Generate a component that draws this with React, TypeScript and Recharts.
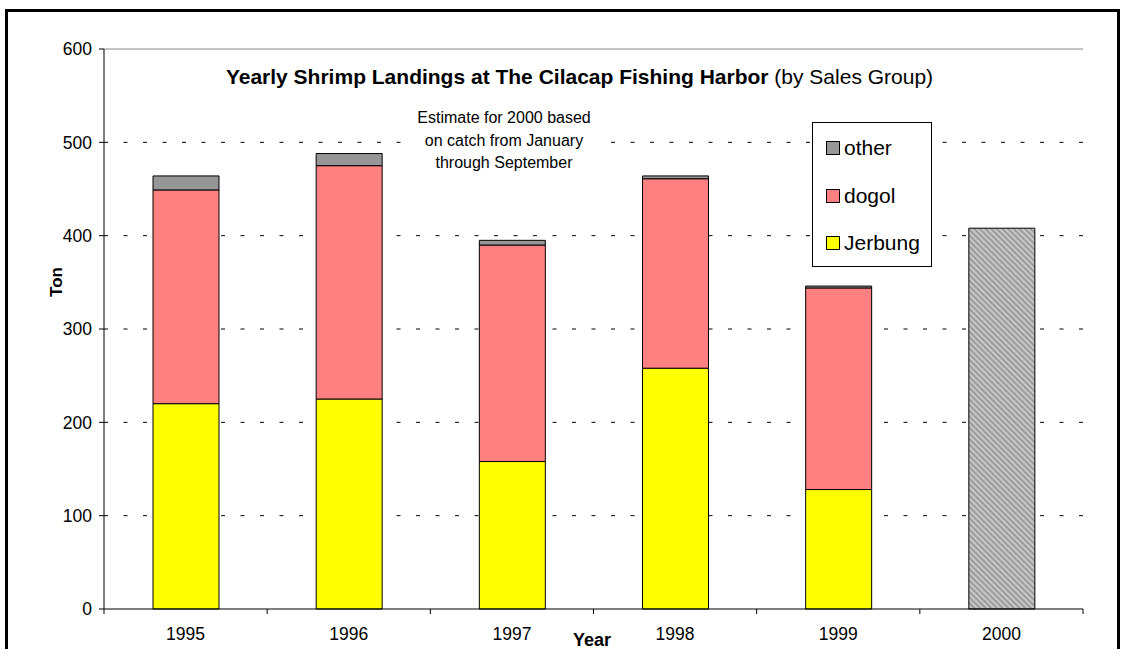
import React from 'react'
import {
  BarChart, Bar, XAxis, YAxis, CartesianGrid, ReferenceLine
} from 'recharts'

const years = ['1995', '1996', '1997', '1998', '1999', '2000']
const jerbung = [220, 225, 158, 258, 128, 0]
const dogol = [229, 250, 232, 203, 216, 0]
const other = [15, 13, 5, 3, 2, 0]
const estimate = [0, 0, 0, 0, 0, 408]
const yTicks = [0, 100, 200, 300, 400, 500, 600]
const gridValues = [100, 200, 300, 400, 500]

const legendItems = [
  { name: 'other', color: '#969696' },
  { name: 'dogol', color: '#FF8080' },
  { name: 'Jerbung', color: '#FFFF00' },
]

const data = years.map((y, i) => ({
  year: y,
  jerbung: jerbung[i] || null,
  dogol: dogol[i] || null,
  other: other[i] || null,
  estimate: estimate[i] || null,
}))

const font = '"Liberation Sans", Arial, sans-serif'

// category label plus tick marks on the band edges (Excel style)
const YearTick = (props: any) => {
  const { x, y, payload, index } = props
  const half = payload?.offset || 0
  const axisY = y - 19
  return (
    <g>
      <line x1={x - half} x2={x - half} y1={axisY} y2={axisY + 5} stroke="#000" />
      {index === years.length - 1 && (
        <line x1={x + half} x2={x + half} y1={axisY} y2={axisY + 5} stroke="#000" />
      )}
      <text x={x} y={y} dy="0.71em" textAnchor="middle" fontSize={17.5} fill="#000" fontFamily={font}>
        {payload.value}
      </text>
    </g>
  )
}

export default function App() {
  return (
    <div style={{ position: 'absolute', left: 0, top: 0, width: 1123, height: 649, overflow: 'hidden', background: '#fff', fontFamily: font }}>
      <div style={{ position: 'absolute', left: 5, top: 9, width: 1109, height: 700, border: '3px solid #000' }} />
      <div style={{ position: 'absolute', left: 0, top: 0 }}>
        <BarChart width={1123} height={649} data={data} margin={{ top: 49, right: 40, left: 44, bottom: 10 }}>
          <defs>
            <pattern id="hatch" width="4" height="4" patternUnits="userSpaceOnUse" patternTransform="rotate(45)">
              <rect width="4" height="4" fill="#c8c8c8" />
              <line x1="0" y1="1" x2="4" y2="1" stroke="#8c8c8c" strokeWidth="1.5" />
            </pattern>
          </defs>
          <CartesianGrid vertical={false} horizontalValues={gridValues} stroke="#000" strokeDasharray="4 15.5" strokeWidth={1} />
          <XAxis dataKey="year" axisLine={{ stroke: '#000' }} tickLine={false} tickSize={0} tickMargin={19}
            height={30} tick={<YearTick />} interval={0} />
          <YAxis domain={[0, 600]} ticks={yTicks} width={60} axisLine={{ stroke: '#000' }} tickLine={{ stroke: '#000' }}
            tickSize={5} tickMargin={7} tick={{ fontSize: 17.5, fill: '#000', fontFamily: font }} />
          <YAxis yAxisId="r" orientation="right" domain={[0, 600]} width={0} tick={false} tickLine={false}
            axisLine={{ stroke: '#888' }} />
          <ReferenceLine y={600} stroke="#888" />
          <Bar dataKey="jerbung" stackId="s" fill="#FFFF00" stroke="#000" strokeWidth={1} barSize={66} isAnimationActive={false} />
          <Bar dataKey="dogol" stackId="s" fill="#FF8080" stroke="#000" strokeWidth={1} barSize={66} isAnimationActive={false} />
          <Bar dataKey="other" stackId="s" fill="#969696" stroke="#000" strokeWidth={1} barSize={66} isAnimationActive={false} />
          <Bar dataKey="estimate" stackId="s" fill="url(#hatch)" stroke="#000" strokeWidth={1} barSize={66} isAnimationActive={false} />
        </BarChart>
      </div>
      <div style={{ position: 'absolute', left: 90, width: 979, top: 65, textAlign: 'center', fontSize: 21, color: '#000', whiteSpace: 'nowrap' }}>
        <b>Yearly Shrimp Landings at The Cilacap Fishing Harbor</b> (by Sales Group)
      </div>
      <div style={{ position: 'absolute', left: 406, width: 196, top: 107, textAlign: 'center', fontSize: 16, lineHeight: '22.5px', color: '#000', background: '#fff' }}>
        Estimate for 2000 based<br />on catch from January<br />through September
      </div>
      <div style={{ position: 'absolute', left: 812, top: 122, width: 118, height: 143, border: '1px solid #000', background: '#fff' }}>
        {legendItems.map((it, i) => (
          <div key={it.name} style={{ position: 'absolute', left: 13, top: 11 + i * 47.5, height: 28, display: 'flex', alignItems: 'center', fontSize: 21, color: '#000' }}>
            <span style={{ display: 'inline-block', width: 12, height: 12, background: it.color, border: '1px solid #000', marginRight: 4 }} />
            {it.name}
          </div>
        ))}
      </div>
      <div style={{ position: 'absolute', left: 37, top: 271, width: 40, height: 22, lineHeight: '22px', transform: 'rotate(-90deg)', fontSize: 17, fontWeight: 'bold', textAlign: 'center' }}>
        Ton
      </div>
      <div style={{ position: 'absolute', left: 552, top: 630, width: 80, textAlign: 'center', fontSize: 18, fontWeight: 'bold' }}>
        Year
      </div>
    </div>
  )
}
